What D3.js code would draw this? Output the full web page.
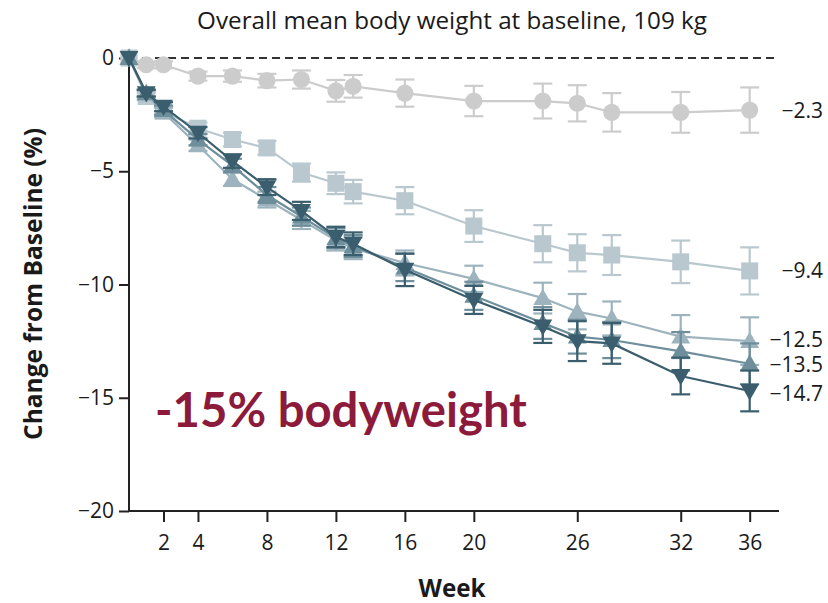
<!DOCTYPE html>
<html>
<head>
<meta charset="utf-8">
<script src="https://cdn.jsdelivr.net/npm/d3@7"></script>
<style>
  html, body { margin: 0; padding: 0; background: #fff; }
  svg { display: block; }
  text { font-family: "Open Sans", Lato, sans-serif; fill: #1a1a1a; }
</style>
</head>
<body>
<svg id="chart" width="828" height="603"></svg>
<script>
// Visit weeks
const weeks = [0, 1, 2, 4, 6, 8, 10, 12, 13, 16, 20, 24, 26, 28, 32, 36];

// Mean percent change from baseline, per arm
const placebo   = [0, -0.3, -0.3, -0.8, -0.8, -1.0, -0.95, -1.45, -1.25, -1.55, -1.9, -1.9, -2.0, -2.4, -2.4, -2.3];
const armSquare = [0, -1.7, -2.35, -3.1, -3.6, -3.97, -5.06, -5.53, -5.9, -6.3, -7.42, -8.2, -8.6, -8.7, -9.0, -9.4];
const armLight  = [0, -1.6, -2.4, -3.85, -5.35, -6.25, -7.15, -8.05, -8.4, -9.05, -9.75, -10.6, -11.2, -11.5, -12.3, -12.5];
const armMid    = [0, -1.55, -2.3, -3.6, -4.75, -6.05, -7.0, -7.95, -8.3, -9.25, -10.5, -11.7, -12.3, -12.45, -12.95, -13.5];
const armDark   = [0, -1.55, -2.15, -3.3, -4.55, -5.7, -6.75, -7.9, -8.2, -9.35, -10.68, -11.85, -12.5, -12.6, -14.04, -14.7];

// Standard errors (half-length of the error bars)
const placeboErr   = [0, 0.15, 0.15, 0.2, 0.25, 0.3, 0.4, 0.48, 0.5, 0.6, 0.67, 0.77, 0.8, 0.85, 0.9, 1.0];
const armSquareErr = [0, 0.15, 0.2, 0.25, 0.3, 0.3, 0.4, 0.48, 0.52, 0.6, 0.7, 0.82, 0.82, 0.88, 0.94, 1.04];
const armLightErr  = [0, 0.15, 0.2, 0.25, 0.3, 0.35, 0.4, 0.45, 0.48, 0.55, 0.58, 0.68, 0.78, 0.75, 0.95, 1.05];
const armMidErr    = [0, 0.15, 0.2, 0.25, 0.3, 0.35, 0.4, 0.45, 0.48, 0.6, 0.62, 0.7, 0.75, 0.8, 0.85, 0.9];
const armDarkErr   = [0, 0.15, 0.2, 0.25, 0.3, 0.35, 0.4, 0.45, 0.5, 0.72, 0.62, 0.73, 0.88, 0.9, 0.81, 0.9];

// End-of-study labels
const endLabels = ["\u22122.3", "\u22129.4", "\u221212.5", "\u221213.5", "\u221214.7"];

// Axis ticks
const xTicks = [2, 4, 8, 12, 16, 20, 26, 32, 36];
const yTicks = [0, -5, -10, -15, -20];

const titleText = "Overall mean body weight at baseline, 109 kg";
const yTitle = "Change from Baseline (%)";
const xTitle = "Week";
const callout = "-15% bodyweight";

// Styling for each arm, drawn lightest first; labelShift keeps crowded end labels apart
const arms = [
  { mean: placebo,   err: placeboErr,   label: endLabels[0], color: "#cccccc", symbol: d3.symbolCircle,   size: 230, rotate: 0,   labelShift: 0 },
  { mean: armSquare, err: armSquareErr, label: endLabels[1], color: "#b9c8cf", symbol: d3.symbolSquare,   size: 290, rotate: 0,   labelShift: 0 },
  { mean: armLight,  err: armLightErr,  label: endLabels[2], color: "#9db3bd", symbol: d3.symbolTriangle, size: 155, rotate: 0,   labelShift: -2 },
  { mean: armMid,    err: armMidErr,    label: endLabels[3], color: "#6e8e9b", symbol: d3.symbolTriangle, size: 155, rotate: 0,   labelShift: 1 },
  { mean: armDark,   err: armDarkErr,   label: endLabels[4], color: "#3a5e6d", symbol: d3.symbolTriangle, size: 155, rotate: 180, labelShift: 2 }
];

const svg = d3.select("#chart");

// Scale a text's font so its rendered width equals the given span
function fitWidth(sel, target) {
  const w = sel.node().getComputedTextLength();
  const fs = parseFloat(sel.style("font-size"));
  sel.style("font-size", (fs * target / w).toFixed(2) + "px");
  return sel;
}

const x = d3.scaleLinear().domain([0, 37.7]).range([129, 779]);
const y = d3.scaleLinear().domain([-20, 0]).range([511, 58]);

// Title
fitWidth(svg.append("text")
  .attr("x", 452).attr("y", 29)
  .attr("text-anchor", "middle")
  .style("font-size", "21px")
  .text(titleText), 510);

// Zero reference line
svg.append("line")
  .attr("x1", x(0)).attr("x2", 776)
  .attr("y1", y(0)).attr("y2", y(0))
  .attr("stroke", "#333").attr("stroke-width", 1.8)
  .attr("stroke-dasharray", "8,5");

// Y axis
const yAxis = svg.append("g")
  .attr("transform", `translate(${x(0)},0)`)
  .call(d3.axisLeft(y).tickValues(yTicks).tickSize(10).tickPadding(5)
    .tickFormat(d => d === 0 ? "0" : "\u2212" + Math.abs(d)));
yAxis.select(".domain").attr("stroke", "#222").attr("stroke-width", 2)
  .attr("d", `M0,${y(-20)}V${y(0) - 3}`);
yAxis.selectAll(".tick line").attr("stroke", "#222").attr("stroke-width", 2);
yAxis.selectAll(".tick text").attr("font-family", null).attr("font-size", null)
  .style("font-size", "21px").attr("fill", "#1a1a1a");

// X axis
const xAxis = svg.append("g")
  .attr("transform", `translate(0,${y(-20)})`)
  .call(d3.axisBottom(x).tickValues(xTicks).tickSize(11).tickPadding(13));
xAxis.select(".domain").attr("stroke", "#222").attr("stroke-width", 2)
  .attr("d", `M${x(0)},0H${x.range()[1]}`);
xAxis.selectAll(".tick line").attr("stroke", "#222").attr("stroke-width", 2);
xAxis.selectAll(".tick text").attr("font-family", null).attr("font-size", null)
  .style("font-size", "21px").attr("fill", "#1a1a1a");

// Axis titles
fitWidth(svg.append("text")
  .attr("transform", `translate(42,284) rotate(-90)`)
  .attr("text-anchor", "middle")
  .style("font-size", "24px").style("font-weight", "bold")
  .text(yTitle), 312);

fitWidth(svg.append("text")
  .attr("x", 452).attr("y", 597)
  .attr("text-anchor", "middle")
  .style("font-size", "24px").style("font-weight", "bold")
  .text(xTitle), 67);

// Series
const line = d3.line().x(d => x(d.w)).y(d => y(d.m));
const capHalf = 9.5;

arms.forEach(arm => {
  const pts = weeks.map((w, i) => ({ w, m: arm.mean[i], e: arm.err[i] }));
  const g = svg.append("g");

  g.append("path")
    .datum(pts)
    .attr("d", line)
    .attr("fill", "none")
    .attr("stroke", arm.color)
    .attr("stroke-width", 2.2);

  const eb = g.selectAll(".eb").data(pts.filter(p => p.e > 0)).join("g");
  eb.append("line")
    .attr("x1", d => x(d.w)).attr("x2", d => x(d.w))
    .attr("y1", d => y(d.m + d.e)).attr("y2", d => y(d.m - d.e))
    .attr("stroke", arm.color).attr("stroke-width", 2.2);
  eb.append("line")
    .attr("x1", d => x(d.w) - capHalf).attr("x2", d => x(d.w) + capHalf)
    .attr("y1", d => y(d.m + d.e)).attr("y2", d => y(d.m + d.e))
    .attr("stroke", arm.color).attr("stroke-width", 2.2);
  eb.append("line")
    .attr("x1", d => x(d.w) - capHalf).attr("x2", d => x(d.w) + capHalf)
    .attr("y1", d => y(d.m - d.e)).attr("y2", d => y(d.m - d.e))
    .attr("stroke", arm.color).attr("stroke-width", 2.2);

  const sym = d3.symbol().type(arm.symbol).size(arm.size);
  g.selectAll(".mk").data(pts).join("path")
    .attr("d", sym)
    .attr("transform", d => {
      // keep triangles visually centred on the point
      const off = arm.symbol === d3.symbolTriangle ? (arm.rotate ? -1.5 : 1.5) : 0;
      return `translate(${x(d.w)},${y(d.m) + off}) rotate(${arm.rotate})`;
    })
    .attr("fill", arm.color);

  // end label
  svg.append("text")
    .attr("x", 823)
    .attr("y", y(arm.mean[arm.mean.length - 1]) + arm.labelShift)
    .attr("dy", "0.36em")
    .attr("text-anchor", "end")
    .style("font-size", "21px")
    .text(arm.label);
});

// Callout
fitWidth(svg.append("text")
  .attr("x", 155).attr("y", 427)
  .style("font-family", "Lato, sans-serif")
  .style("font-size", "46px").style("font-weight", "bold")
  .style("fill", "#8c1a3b")
  .text(callout), 372);
</script>
</body>
</html>
